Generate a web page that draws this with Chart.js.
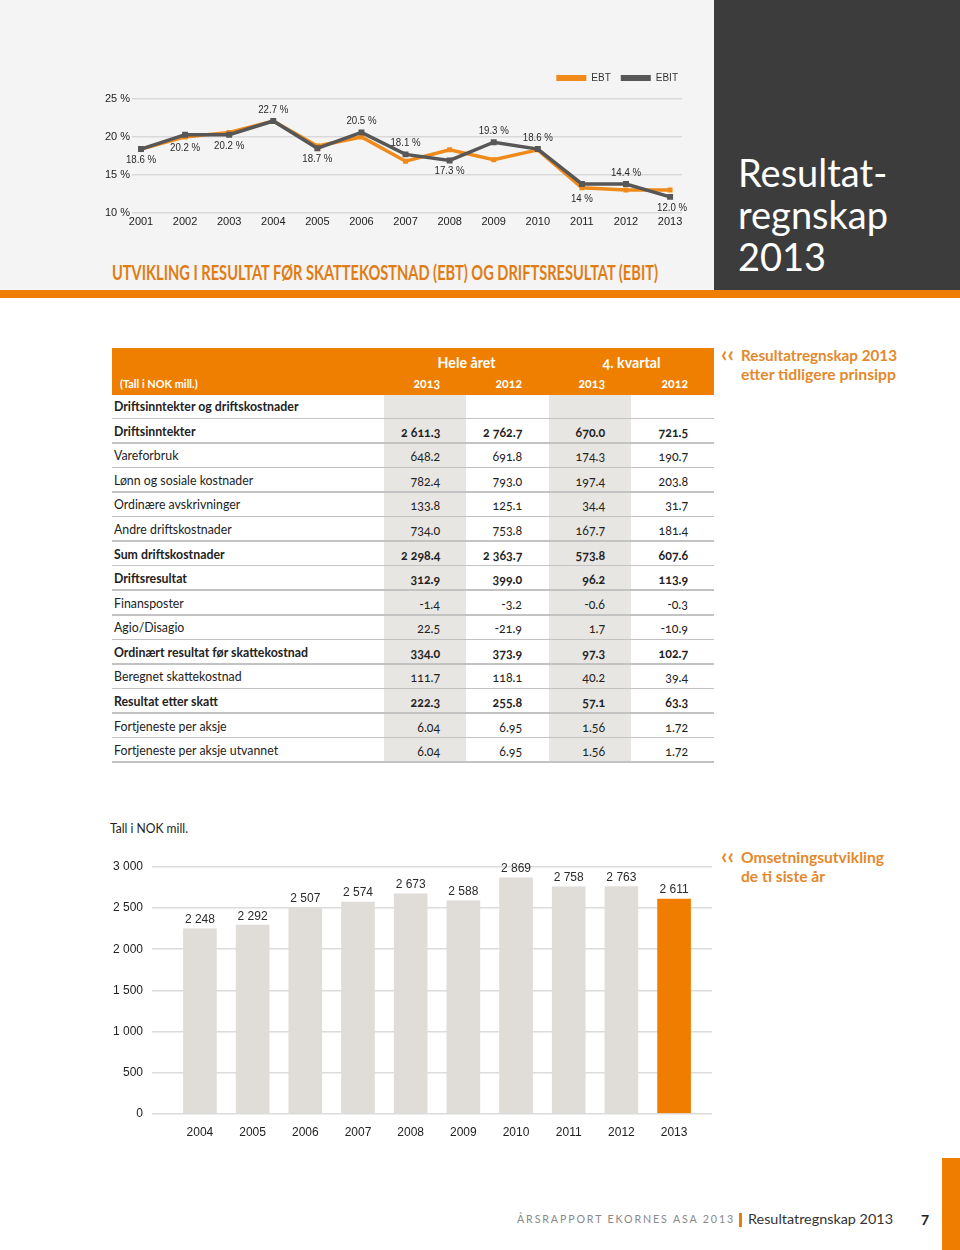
<!DOCTYPE html>
<html><head><meta charset="utf-8">
<script src="https://cdn.jsdelivr.net/npm/chart.js@4.4.1/dist/chart.umd.min.js"></script>
<style>
html,body{margin:0;padding:0;background:#fff;}
body{width:960px;height:1250px;position:relative;overflow:hidden;font-family:Lato,'Noto Sans',sans-serif;color:#222;}
.abs{position:absolute;}
.fit{display:inline-block;white-space:nowrap;}
#topbg{left:0;top:0;width:714px;height:290px;background:#f4f4f4;}
#darkbg{left:714px;top:0;width:246px;height:290px;background:#3c3c3c;}
#stripe{left:0;top:290px;width:960px;height:8px;background:#ee7d00;}
#title{left:738px;top:151px;color:#fff;font-size:38px;line-height:42px;font-family:Lato,'Noto Sans',sans-serif;}
#heading{left:112px;top:260px;color:#e07c14;font-weight:bold;font-size:20px;line-height:24px;white-space:nowrap;transform-origin:left center;}
.note{color:#e3892c;font-weight:bold;font-size:15px;line-height:19px;white-space:nowrap;}
.note .q{position:absolute;left:-1px;top:-4px;font-size:22px;line-height:24px;font-weight:bold;}
.note .t{position:absolute;left:19px;top:0;}
#thead{left:112px;top:348px;width:602px;height:47px;background:#ee7f00;color:#fff;font-weight:bold;}
.cell{position:absolute;white-space:nowrap;font-size:13px;line-height:16px;font-variant-numeric:oldstyle-nums;}
.cell span{display:inline-block;}
.colbg{position:absolute;background:#e8e6e3;}
.hline{position:absolute;left:112px;width:602px;height:1.5px;background:#c3c3c3;}
#footer1{left:517px;top:1212px;font-size:11.5px;letter-spacing:2px;color:#888;white-space:nowrap;transform-origin:left center;}
#footbar{left:739px;top:1213px;width:2.5px;height:14px;background:#ee7d00;}
#footer2{left:748px;top:1211px;font-size:13.5px;color:#333;white-space:nowrap;transform-origin:left center;}
#pageno{left:921px;top:1211px;font-size:14px;font-weight:bold;color:#222;}
#orangeblock{left:942px;top:1158px;width:18px;height:92px;background:#ee7d00;}
#tallnok{left:110px;top:821px;font-size:12.5px;color:#222;white-space:nowrap;transform-origin:left center;}
</style>
</head>
<body>
<div id="topbg" class="abs"></div>
<div id="darkbg" class="abs"></div>
<div id="stripe" class="abs"></div>
<div id="title" class="abs">Resultat-<br>regnskap<br>2013</div>
<div id="heading" class="abs fit">UTVIKLING I RESULTAT FØR SKATTEKOSTNAD (EBT) OG DRIFTSRESULTAT (EBIT)</div>

<div class="abs" style="left:100px;top:60px;width:600px;height:172px;"><canvas id="lineChart" width="600" height="172"></canvas></div>

<div id="tablewrap"></div>

<div class="abs note" style="left:722px;top:346px;"><span class="q">‹‹</span><span class="t fit" id="n1a">Resultatregnskap 2013</span><span class="t fit" id="n1b" style="top:19px">etter tidligere prinsipp</span></div>
<div class="abs note" style="left:722px;top:848px;"><span class="q">‹‹</span><span class="t fit" id="n2a">Omsetningsutvikling</span><span class="t fit" id="n2b" style="top:19px">de ti siste år</span></div>

<div id="tallnok" class="abs fit">Tall i NOK mill.</div>
<div class="abs" style="left:100px;top:845px;width:615px;height:307px;"><canvas id="barChart" width="615" height="307"></canvas></div>

<div id="footer1" class="abs fit">ÅRSRAPPORT EKORNES ASA 2013</div>
<div id="footbar" class="abs"></div>
<div id="footer2" class="abs fit">Resultatregnskap 2013</div>
<div id="pageno" class="abs">7</div>
<div id="orangeblock" class="abs"></div>

<script>
// ---------- DATA ----------
const lineYears = [2001,2002,2003,2004,2005,2006,2007,2008,2009,2010,2011,2012,2013];
const ebtValues = [18.4,20.0,20.6,22.1,18.8,20.0,16.8,18.3,17.0,18.3,13.3,13.0,13.0];
const ebitValues = [18.4,20.3,20.3,22.1,18.5,20.6,17.7,16.9,19.3,18.4,13.8,13.8,12.1];
const ebitLabels = ['18.6 %','20.2 %','20.2 %','22.7 %','18.7 %','20.5 %','18.1 %','17.3 %','19.3 %','18.6 %','14 %','14.4 %','12.0 %'];
const seriesNames = ['EBT','EBIT'];

const barYears = [2004,2005,2006,2007,2008,2009,2010,2011,2012,2013];
const revenue = [2248,2292,2507,2574,2673,2588,2869,2758,2763,2611];

const yearHeaders = ['2013','2012','2013','2012'];
const rowLabels = ['Driftsinntekter og driftskostnader','Driftsinntekter','Vareforbruk','Lønn og sosiale kostnader','Ordinære avskrivninger','Andre driftskostnader','Sum driftskostnader','Driftsresultat','Finansposter','Agio/Disagio','Ordinært resultat før skattekostnad','Beregnet skattekostnad','Resultat etter skatt','Fortjeneste per aksje','Fortjeneste per aksje utvannet'];
const rowBold = [true,true,false,false,false,false,true,true,false,false,true,false,true,false,false];
const hele2013 = ['','2 611.3','648.2','782.4','133.8','734.0','2 298.4','312.9','-1.4','22.5','334.0','111.7','222.3','6.04','6.04'];
const hele2012 = ['','2 762.7','691.8','793.0','125.1','753.8','2 363.7','399.0','-3.2','-21.9','373.9','118.1','255.8','6.95','6.95'];
const kv2013 = ['','670.0','174.3','197.4','34.4','167.7','573.8','96.2','-0.6','1.7','97.3','40.2','57.1','1.56','1.56'];
const kv2012 = ['','721.5','190.7','203.8','31.7','181.4','607.6','113.9','-0.3','-10.9','102.7','39.4','63.3','1.72','1.72'];

// ---------- STYLE ----------
const ORANGE = '#f08a1a';
const DARK = '#575757';
const NARROW = "'Liberation Sans Narrow','Arial Narrow','Liberation Sans',Arial,sans-serif";
const SANS = "'Liberation Sans',Arial,sans-serif";
const fmt = n => String(n).replace(/\B(?=(\d{3})+(?!\d))/g, '\u00a0');

// ---------- TABLE ----------
const wrap = document.getElementById('tablewrap');
const numRight = [440,522,605,688];
function add(html, cls, style){ const d=document.createElement('div'); d.className=cls; d.setAttribute('style',style); d.innerHTML=html; wrap.appendChild(d); return d; }
add('', 'colbg', 'left:384px;top:395px;width:82px;height:367px;');
add('', 'colbg', 'left:549px;top:395px;width:82px;height:367px;');
const head = add('', 'abs', '');
head.id='thead';
add('<span class="tx">Hele året</span>','cell','left:384px;width:165px;text-align:center;top:354px;color:#fff;font-weight:bold;font-size:15px;');
add('<span class="tx">4. kvartal</span>','cell','left:549px;width:165px;text-align:center;top:354px;color:#fff;font-weight:bold;font-size:15px;');
add('<span class="tx lft">(Tall i NOK mill.)</span>','cell','left:120px;top:376px;color:#fff;font-weight:bold;font-size:11.5px;');
yearHeaders.forEach((y,i)=>{
  add('<span class="tx rgt">'+y+'</span>','cell','left:'+(numRight[i]-80)+'px;width:80px;text-align:right;top:375px;color:#fff;font-weight:bold;font-size:13px;');
});
const rowTop0 = 418, rowH = 24.57;
for(let r=0;r<15;r++){
  add('', 'hline', 'top:'+(r===0?417.5:(rowTop0 + r*rowH - 0.5))+'px;');
}
rowLabels.forEach((lab,i)=>{
  const cy = i===0 ? 406 : rowTop0 + (i-0.5)*rowH + 0.5;
  const w = rowBold[i] ? 'bold' : 'normal';
  add('<span class="tx lft">'+lab+'</span>','cell','left:114px;top:'+(cy-8)+'px;font-weight:'+w+';');
  [hele2013,hele2012,kv2013,kv2012].forEach((col,c)=>{
    if(!col[i]) return;
    add('<span class="tx rgt">'+col[i].replace(' ','\u00a0')+'</span>','cell','left:'+(numRight[c]-80)+'px;width:80px;text-align:right;top:'+(cy-7)+'px;font-weight:'+w+';');
  });
});

// ---------- LINE CHART ----------
const labelPlugin = {
  id:'pctLabels',
  afterDatasetsDraw(chart){
    const ebit = chart.getDatasetMeta(1).data, ebt = chart.getDatasetMeta(0).data;
    const below = new Set([0,1,2,4,7,10,12]);
    const ctx = chart.ctx;
    ctx.save();
    ctx.font = '11px '+NARROW; ctx.fillStyle = '#2a2a2a'; ctx.textAlign='center'; ctx.textBaseline='middle';
    ebit.forEach((p,i)=>{
      const y = below.has(i) ? Math.max(p.y, ebt[i].y) + 11 : Math.min(p.y, ebt[i].y) - 11;
      const x = p.x + (i===ebit.length-1?2:0);
      ctx.save(); ctx.translate(x, y); ctx.scale(0.88, 1);
      ctx.fillText(ebitLabels[i], 0, 0);
      ctx.restore();
    });
    ctx.restore();
  }
};
const legendGap = {
  id:'legendGap',
  beforeInit(chart){
    const lg = chart.legend; if(!lg) return;
    const orig = lg.fit;
    lg.fit = function(){ orig.call(this); this.height += 6; };
  },
  afterLayout(chart){
    const lg = chart.legend; if(!lg) return;
    lg.left += 6; lg.right += 6;
  }
};
new Chart(document.getElementById('lineChart'), {
  type:'line',
  data:{ datasets:[
    {label:seriesNames[0], data:lineYears.map((y,i)=>({x:y,y:ebtValues[i]})), borderColor:ORANGE, backgroundColor:ORANGE, borderWidth:3.5, pointStyle:'rect', pointRadius:3.5, pointBackgroundColor:ORANGE, pointBorderWidth:0, order:2, tension:0},
    {label:seriesNames[1], data:lineYears.map((y,i)=>({x:y,y:ebitValues[i]})), borderColor:DARK, backgroundColor:DARK, borderWidth:3.5, pointStyle:'rect', pointRadius:4.2, pointBackgroundColor:DARK, pointBorderWidth:0, order:1, tension:0}
  ]},
  options:{
    responsive:false, animation:false, devicePixelRatio:1,
    layout:{padding:{left:0,right:18,top:3,bottom:0}},
    plugins:{
      tooltip:{enabled:false},
      legend:{position:'top', align:'end',
        labels:{boxWidth:30, boxHeight:6, padding:10, color:'#333', font:{family:NARROW,size:10},
          sort:(a,b)=>a.datasetIndex-b.datasetIndex,
          generateLabels(chart){ return Chart.defaults.plugins.legend.labels.generateLabels(chart).map(l=>Object.assign(l,{lineWidth:0})); }
        }}
    },
    scales:{
      x:{type:'linear', min:2000.796, max:2013.27,
        grid:{display:false, drawTicks:false}, border:{display:false},
        ticks:{stepSize:1, includeBounds:false, padding:3, color:'#222', font:{family:NARROW,size:11}, callback:v=>String(v)}},
      y:{min:10, max:25,
        grid:{color:'#d9d9d9', lineWidth:1.5, drawTicks:false}, border:{display:false},
        afterFit(s){ s.width = 32; },
        ticks:{stepSize:5, padding:2, color:'#222', font:{family:NARROW,size:11}, callback:v=>v+' %'}}
    }
  },
  plugins:[labelPlugin, legendGap]
});

// ---------- BAR CHART ----------
const barLabelPlugin = {
  id:'barLabels',
  afterDatasetsDraw(chart){
    const ctx = chart.ctx; const bars = chart.getDatasetMeta(0).data;
    ctx.save(); ctx.font='12px '+SANS; ctx.fillStyle='#2a2a2a'; ctx.textAlign='center'; ctx.textBaseline='middle';
    bars.forEach((b,i)=>ctx.fillText(fmt(revenue[i]), b.x, b.y-9));
    ctx.restore();
  }
};
new Chart(document.getElementById('barChart'), {
  type:'bar',
  data:{ datasets:[{ data:barYears.map((y,i)=>({x:y,y:revenue[i]})),
    backgroundColor:barYears.map((y,i)=> i===barYears.length-1 ? '#f07d00' : '#e0dcd8'),
    barThickness:33 }]},
  options:{
    responsive:false, animation:false, devicePixelRatio:1,
    layout:{padding:{left:0,right:3,top:22,bottom:0}},
    plugins:{legend:{display:false}, tooltip:{enabled:false}},
    scales:{
      x:{type:'linear', min:2003.09, max:2013.72, offset:false,
        grid:{display:false, drawTicks:false}, border:{display:false},
        ticks:{stepSize:1, includeBounds:false, padding:12, color:'#222', font:{family:SANS,size:12}, callback:v=>String(v)}},
      y:{min:0, max:3000,
        grid:{color:'#dcdcdc', lineWidth:1.5, drawTicks:false}, border:{display:false},
        afterFit(s){ s.width = 52; },
        ticks:{stepSize:500, padding:9, color:'#222', font:{family:SANS,size:12}, callback:v=>fmt(v)}}
    }
  },
  plugins:[barLabelPlugin]
});

// ---------- TEXT FITTING ----------
function fitTo(el, w, origin){ const cur = el.getBoundingClientRect().width; if(cur>0){ el.style.transformOrigin = (origin||'left')+' center'; el.style.transform = 'scaleX('+(w/cur)+')'; } }
function doFit(){
  fitTo(document.getElementById('heading'), 546);
  fitTo(document.getElementById('footer1'), 218);
  fitTo(document.getElementById('footer2'), 145);
  fitTo(document.getElementById('n1a'), 156);
  fitTo(document.getElementById('n1b'), 155);
  fitTo(document.getElementById('tallnok'), 78);
  const spans = Array.from(wrap.querySelectorAll('.tx'));
  const ref = spans.find(s=>s.textContent==='Ordinært resultat før skattekostnad');
  const k = 194 / ref.getBoundingClientRect().width;
  spans.forEach(s=>{ s.style.transformOrigin = s.classList.contains('rgt') ? 'right center' : (s.classList.contains('lft') ? 'left center' : 'center center'); s.style.transform='scaleX('+k+')'; });
  const n2a = document.getElementById('n2a'); fitTo(n2a, 143);
  const n2b = document.getElementById('n2b'); n2b.style.transformOrigin='left center'; n2b.style.transform = n2a.style.transform;
}
if(document.fonts && document.fonts.ready){ document.fonts.ready.then(doFit); } else doFit();
</script>
</body></html>
